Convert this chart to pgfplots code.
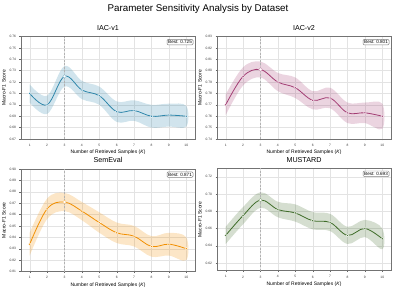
\documentclass[border=0pt]{standalone}
\usepackage{pgfplots}
\pgfplotsset{compat=1.18}
\usepackage{pgfplotstable}
\usepackage{fontspec}
\setmainfont{Liberation Sans}
\definecolor{cA}{HTML}{2E86AB}
\definecolor{cB}{HTML}{A23B72}
\definecolor{cC}{HTML}{F18F01}
\definecolor{cD}{HTML}{3E6B28}
\definecolor{gridc}{HTML}{E3E3E3}

% mean values
\pgfplotstableread{
K y
1 0.710
2 0.700
3 0.725
4 0.713
5 0.708
6 0.694
7 0.695
8 0.690
9 0.691
10 0.690
}\tabA
% band: upper edge K=1..10, then lower edge K=10..1
\pgfplotstableread{
K b
1 0.718
2 0.708
3 0.734
4 0.721
5 0.716
6 0.703
7 0.704
8 0.700
9 0.701
10 0.699
10 0.681
9 0.681
8 0.680
7 0.686
6 0.685
5 0.700
4 0.705
3 0.716
2 0.692
1 0.702
}\bandA
\pgfplotstableread{
K y
1 0.770
2 0.795
3 0.801
4 0.790
5 0.785
6 0.774
7 0.776
8 0.763
9 0.763
10 0.760
}\tabB
\pgfplotstableread{
K b
1 0.779
2 0.803
3 0.808
4 0.798
5 0.794
6 0.782
7 0.785
8 0.772
9 0.772
10 0.771
10 0.749
9 0.754
8 0.754
7 0.767
6 0.766
5 0.776
4 0.782
3 0.794
2 0.787
1 0.761
}\bandB
\pgfplotstableread{
K y
1 0.834
2 0.865
3 0.871
4 0.863
5 0.853
6 0.844
7 0.841
8 0.832
9 0.834
10 0.830
}\tabC
\pgfplotstableread{
K b
1 0.844
2 0.874
3 0.879
4 0.871
5 0.862
6 0.853
7 0.850
8 0.841
9 0.844
10 0.840
10 0.820
9 0.824
8 0.823
7 0.832
6 0.835
5 0.844
4 0.855
3 0.863
2 0.856
1 0.824
}\bandC
\pgfplotstableread{
K y
1 0.652
2 0.675
3 0.693
4 0.682
5 0.678
6 0.669
7 0.667
8 0.652
9 0.660
10 0.648
}\tabD
\pgfplotstableread{
K b
1 0.662
2 0.685
3 0.702
4 0.691
5 0.688
6 0.679
7 0.677
8 0.662
9 0.670
10 0.660
10 0.636
9 0.650
8 0.642
7 0.657
6 0.659
5 0.668
4 0.673
3 0.684
2 0.665
1 0.642
}\bandD

\pgfplotsset{
  panel/.style={
    scale only axis, width=174bp, height=102.5bp,
    xmin=0.5, xmax=10.5, xtick={1,2,3,4,5,6,7,8,9,10},
    grid=major, major grid style={gridc, line width=0.4bp},
    axis line style={black!55, line width=0.5bp},
    tick style={black!60, line width=0.4bp},
    tick align=outside, major tick length=1.5bp,
    xtick pos=bottom, ytick pos=left,
    ticklabel style={font=\fontsize{3.3}{3.6}\selectfont, text=black!80},
    /pgf/number format/assume math mode=true,
    yticklabel style={/pgf/number format/fixed, /pgf/number format/fixed zerofill, /pgf/number format/precision=2},
    xlabel={Number of Retrieved Samples (\textit{K})},
    ylabel={Macro-F1 Score},
    label style={font=\fontsize{5}{6}\selectfont},
    xlabel style={yshift=3bp},
    ylabel style={yshift=-3bp},
    title style={font=\fontsize{7.2}{8}\selectfont, yshift=-3.5bp},
  },
}
\newcommand{\panelplots}[4]{%
  \addplot[fill=#3, fill opacity=0.22, draw=none, smooth, tension=0.6] table[x=K, y=b] {#2};
  \draw[black!30, dash pattern=on 2bp off 1.5bp, line width=0.5bp] (axis cs:3,\pgfkeysvalueof{/pgfplots/ymin}) -- (axis cs:3,\pgfkeysvalueof{/pgfplots/ymax});
  \addplot[color=#3, line width=0.8bp, smooth, tension=0.6, mark=*, mark size=1.3bp,
    mark options={solid, fill=#3, draw=white, line width=0.35bp}] table[x=K, y=y] {#1};
  \addplot[only marks, mark=*, mark size=1.8bp, mark options={solid, fill=white, draw=#3!60, line width=0.35bp}] coordinates {(3,#4)};
  \node[anchor=north east, draw=black!50, rounded corners=1.2bp, fill=white,
    inner sep=1.2bp, font=\fontsize{4.6}{5}\selectfont, line width=0.45bp]
    at (rel axis cs:0.99,0.975) {Best: #4};
}

\begin{document}
\begin{tikzpicture}
\useasboundingbox (0,0) rectangle (396bp,289bp);
\node[font=\fontsize{9.8}{11}\selectfont] at (198bp,280bp) {Parameter Sensitivity Analysis by Dataset};

\begin{axis}[panel, at={(21bp,150bp)}, anchor=south west, title={IAC-v1},
  ymin=0.67, ymax=0.76, ytick={0.67,0.68,0.69,0.70,0.71,0.72,0.73,0.74,0.75,0.76}]
\panelplots{\tabA}{\bandA}{cA}{0.725}
\end{axis}

\begin{axis}[panel, at={(217bp,150bp)}, anchor=south west, title={IAC-v2},
  ymin=0.74, ymax=0.83, ytick={0.74,0.75,0.76,0.77,0.78,0.79,0.80,0.81,0.82,0.83}]
\panelplots{\tabB}{\bandB}{cB}{0.801}
\end{axis}

\begin{axis}[panel, at={(21bp,17.5bp)}, anchor=south west, title={SemEval},
  ymin=0.81, ymax=0.90, ytick={0.81,0.82,0.83,0.84,0.85,0.86,0.87,0.88,0.89,0.90}]
\panelplots{\tabC}{\bandC}{cC}{0.871}
\end{axis}

\begin{axis}[panel, at={(217bp,18.3bp)}, anchor=south west, title={MUSTARD},
  ymin=0.611, ymax=0.730, ytick={0.62,0.64,0.66,0.68,0.70,0.72}]
\panelplots{\tabD}{\bandD}{cD}{0.693}
\end{axis}
\end{tikzpicture}
\end{document}
